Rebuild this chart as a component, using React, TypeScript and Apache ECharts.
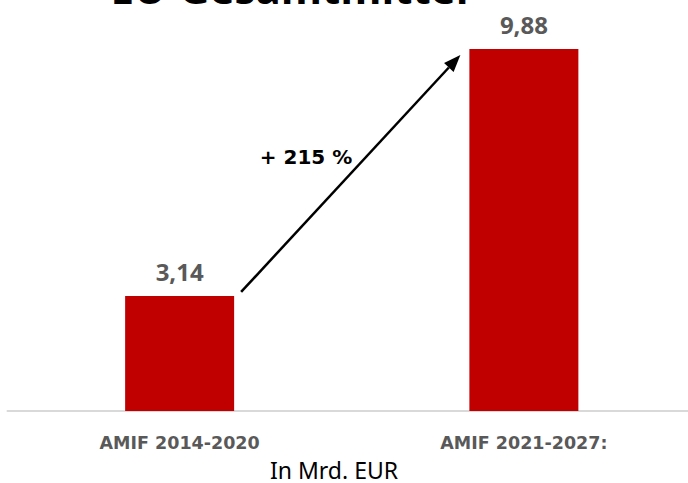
import React, { useEffect, useRef } from "react";
import * as echarts from "echarts";

const categories = ["AMIF 2014-2020", "AMIF 2021-2027:"];
const values = [3.14, 9.88];
const titleText = "EU-Gesamtmittel";
const growthLabel = "+ 215 %";
const unitLabel = "In Mrd. EUR";

export default function App() {
  const ref = useRef<HTMLDivElement>(null);
  useEffect(() => {
    document.body.style.margin = "0";
    const chart = echarts.init(ref.current!, null, { renderer: "svg" });
    chart.setOption({
      animation: false,
      backgroundColor: "#ffffff",
      grid: { left: 7.5, right: 0, top: 44.6, bottom: 72, containLabel: false },
      xAxis: {
        type: "category",
        data: categories,
        axisLine: { lineStyle: { color: "#d9d9d9", width: 2 } },
        axisTick: { show: false },
        axisLabel: {
          color: "#595959",
          fontFamily: "DejaVu Sans",
          fontWeight: "bold",
          fontSize: 17.5,
          margin: 23,
        },
      },
      yAxis: {
        type: "value",
        min: 0,
        max: 10,
        show: false,
        splitLine: { show: false },
      },
      series: [
        {
          type: "bar",
          data: values,
          barWidth: 109,
          itemStyle: { color: "#c00000" },
          label: {
            show: true,
            position: "top",
            distance: 12,
            color: "#595959",
            fontFamily: "Open Sans",
            fontWeight: "bold",
            fontSize: 24,
            formatter: (p: any) => String(p.value).replace(".", ","),
          },
        },
      ],
    });
    const p0 = chart.convertToPixel({ seriesIndex: 0 }, [0, values[0]]) as number[];
    const p1 = chart.convertToPixel({ seriesIndex: 0 }, [1, values[1]]) as number[];
    const x0 = p0[0] + 54.5 + 7;
    const y0 = p0[1] - 4;
    const x1 = p1[0] - 54.5 - 9;
    const y1 = p1[1] + 6;
    const ang = Math.atan2(y1 - y0, x1 - x0);
    const L = 17, W = 6.5;
    const bx = x1 - L * Math.cos(ang);
    const by = y1 - L * Math.sin(ang);
    const nx = -Math.sin(ang), ny = Math.cos(ang);
    chart.setOption({
      graphic: [
        {
          type: "text",
          x: 289.5,
          y: -34,
          style: {
            text: titleText,
            fill: "#000000",
            fontFamily: "Open Sans",
            fontWeight: "bold",
            fontSize: 42,
            align: "center",
            verticalAlign: "top",
          },
          z: 10,
        },
        {
          type: "line",
          shape: { x1: x0, y1: y0, x2: bx, y2: by },
          style: { stroke: "#000000", lineWidth: 2.5 },
          z: 10,
        },
        {
          type: "polygon",
          shape: {
            points: [
              [x1, y1],
              [bx + nx * W, by + ny * W],
              [bx - nx * W, by - ny * W],
            ],
          },
          style: { fill: "#000000" },
          z: 10,
        },
        {
          type: "text",
          x: 306,
          y: 157,
          style: {
            text: growthLabel,
            fill: "#000000",
            fontFamily: "DejaVu Sans",
            fontWeight: "bold",
            fontSize: 20,
            align: "center",
            verticalAlign: "middle",
          },
          z: 10,
        },
        {
          type: "text",
          x: 334,
          y: 470,
          style: {
            text: unitLabel,
            fill: "#000000",
            fontFamily: "Noto Sans",
            fontSize: 23,
            lineHeight: 23,
            align: "center",
            verticalAlign: "middle",
          },
          z: 10,
        },
      ],
    });
    return () => chart.dispose();
  }, []);
  return (
    <div style={{ position: "fixed", left: 0, top: 0, width: 688, height: 483, overflow: "hidden" }}>
      <div ref={ref} style={{ width: 696, height: 483 }} />
    </div>
  );
}
